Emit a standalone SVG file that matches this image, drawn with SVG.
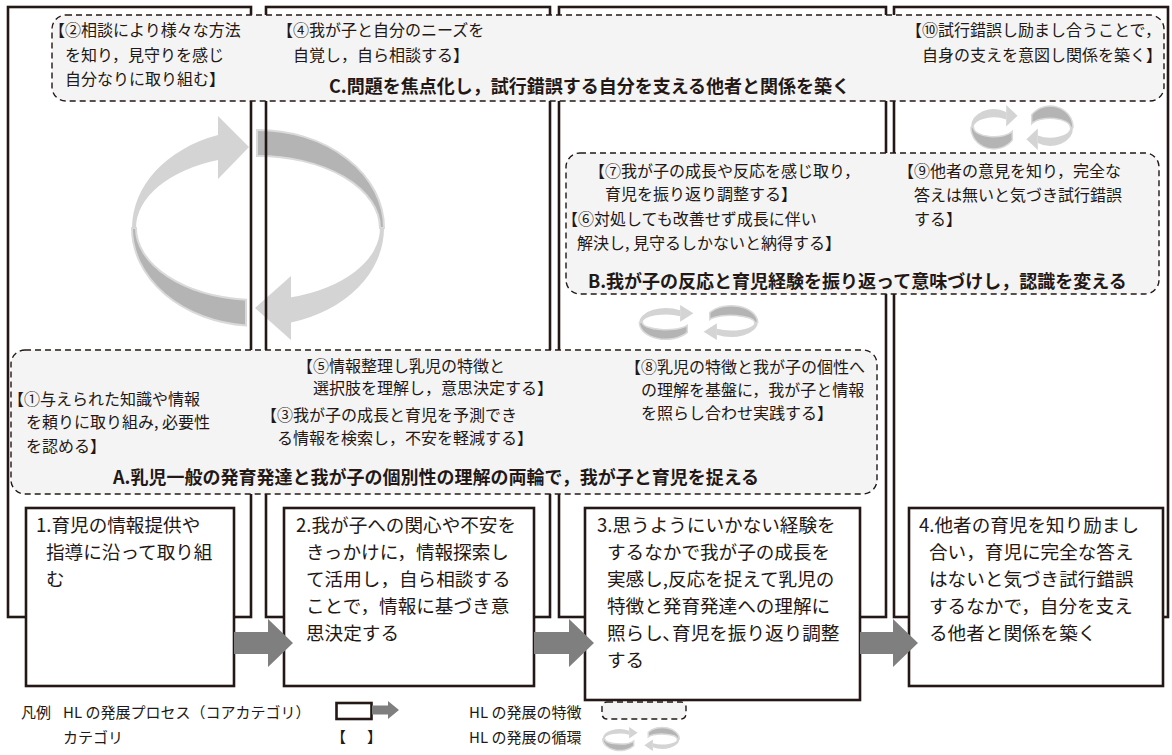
<svg xmlns="http://www.w3.org/2000/svg" width="1172" height="755" viewBox="0 0 1172 755">
<style>
  text { font-family: 'Noto Sans CJK JP', 'Noto Sans', sans-serif; fill: #231815; }
  .cat { font-size: 16px; }
  .ttl { font-size: 18px; font-weight: 700; }
  .box { font-size: 18.6px; }
  .leg { font-size: 15px; }
  .col { fill: none; stroke: #231815; stroke-width: 2.6; }
  .feat { fill: #f4f4f4; stroke: #231815; stroke-width: 1.4; stroke-dasharray: 6 4; }
  .proc { fill: #ffffff; stroke: #231815; stroke-width: 2.6; }
  .parr { fill: #7f7f7f; }
  .cl { fill: #d4d4d4; }
  .cd { fill: #b4b4b4; stroke: #dadada; stroke-width: 2; }
  .cds { fill: #b4b4b4; stroke: #dadada; stroke-width: 1.5; vector-effect: non-scaling-stroke; }
</style>
<defs>
  <g id="cycL">
    <path class="cds" d="M-55,0 A26,21 0 0 0 -8,12.4 L-8,3.7 A23,9 0 0 1 -52,0 Z"/>
    <path class="cl" d="M-55,0 A26,18 0 0 1 -15,-15.2 L-15,-7.9 A23,10 0 0 0 -52,0 Z"/>
    <path class="cl" d="M-15,-22 L-2,-11.5 L-15,-1 Z"/>
  </g>
  <g id="cyc">
    <use href="#cycL" transform="translate(-3,0)"/>
    <use href="#cycL" transform="translate(3,0) rotate(180)"/>
  </g>
</defs>
<rect x="0" y="0" width="1172" height="755" fill="#ffffff"/>

<g id="big-cycle">
  <path class="cd" d="M132,228 A126,98 0 0 0 246,325.6 L246,299.7 A122,72 0 0 1 136,228 Z"/>
  <path class="cl" d="M132,228 A126,98 0 0 1 218,135.1 L218,160 A122,72 0 0 0 136,228 Z"/>
  <path class="cl" d="M218,116 L249,147 L218,179 Z"/>
  <path class="cd" d="M257,130 A126,98 0 0 1 384,228 L380,228 A122,72 0 0 0 257,156 Z"/>
  <path class="cl" d="M384,228 A126,98 0 0 1 291,322.6 L291,297.3 A122,72 0 0 0 380,228 Z"/>
  <path class="cl" d="M291,276 L255,308 L291,340 Z"/>
</g>

<g id="columns">
  <rect class="col" x="8" y="7" width="243" height="610"/>
  <rect class="col" x="266" y="7" width="284" height="610"/>
  <rect class="col" x="559" y="7" width="327" height="610"/>
  <rect class="col" x="894" y="7" width="274" height="610"/>
</g>

<g id="cycle-upper"><use href="#cyc" transform="translate(1022,127.5) scale(0.88,1.02)"/></g>
<g id="cycle-middle"><use href="#cyc" transform="translate(698.5,322.5) scale(1.02,0.8)"/></g>

<g id="feature-C">
  <rect class="feat" x="52" y="15" width="1112" height="86" rx="14"/>
  <text class="cat" x="49" y="36">【②相談により様々な方法</text>
  <text class="cat" x="65" y="61">を知り，見守りを感じ</text>
  <text class="cat" x="65" y="85">自分なりに取り組む】</text>
  <text class="cat" x="277" y="36">【④我が子と自分のニーズを</text>
  <text class="cat" x="293" y="61">自覚し，自ら相談する】</text>
  <text class="cat" x="906" y="36">【⑩試行錯誤し励まし合うことで，</text>
  <text class="cat" x="922" y="61">自身の支えを意図し関係を築く】</text>
  <text class="ttl" x="329" y="93">C.問題を焦点化し，試行錯誤する自分を支える他者と関係を築く</text>
</g>

<g id="feature-B">
  <rect class="feat" x="566" y="153" width="593" height="141" rx="14"/>
  <text class="cat" x="589" y="177">【⑦我が子の成長や反応を感じ取り，</text>
  <text class="cat" x="605" y="200">育児を振り返り調整する】</text>
  <text class="cat" x="562" y="225">【⑥対処しても改善せず成長に伴い</text>
  <text class="cat" x="577" y="249">解決し, 見守るしかないと納得する】</text>
  <text class="cat" x="898" y="177">【⑨他者の意見を知り，完全な</text>
  <text class="cat" x="914" y="201">答えは無いと気づき試行錯誤</text>
  <text class="cat" x="914" y="225">する】</text>
  <text class="ttl" x="588" y="288">B.我が子の反応と育児経験を振り返って意味づけし，認識を変える</text>
</g>

<g id="feature-A">
  <rect class="feat" x="11" y="350" width="866" height="144" rx="14"/>
  <text class="cat" x="297" y="372">【⑤情報整理し乳児の特徴と</text>
  <text class="cat" x="313" y="394">選択肢を理解し，意思決定する】</text>
  <text class="cat" x="261" y="421">【③我が子の成長と育児を予測でき</text>
  <text class="cat" x="277" y="444">る情報を検索し，不安を軽減する】</text>
  <text class="cat" x="8" y="405">【①与えられた知識や情報</text>
  <text class="cat" x="26" y="428">を頼りに取り組み, 必要性</text>
  <text class="cat" x="26" y="452">を認める】</text>
  <text class="cat" x="625" y="373">【⑧乳児の特徴と我が子の個性へ</text>
  <text class="cat" x="641" y="396">の理解を基盤に，我が子と情報</text>
  <text class="cat" x="641" y="419">を照らし合わせ実践する】</text>
  <text class="ttl" x="113" y="484">A.乳児一般の発育発達と我が子の個別性の理解の両輪で，我が子と育児を捉える</text>
</g>

<g id="process-1">
  <rect class="proc" x="26" y="508" width="208" height="178"/>
  <text class="box" x="36" y="532">1.育児の情報提供や</text>
  <text class="box" x="46" y="559">指導に沿って取り組</text>
  <text class="box" x="46" y="586">む</text>
</g>
<g id="process-2">
  <rect class="proc" x="284" y="508" width="250" height="178"/>
  <text class="box" x="296" y="532">2.我が子への関心や不安を</text>
  <text class="box" x="306" y="559">きっかけに，情報探索し</text>
  <text class="box" x="306" y="586">て活用し，自ら相談する</text>
  <text class="box" x="306" y="613">ことで，情報に基づき意</text>
  <text class="box" x="306" y="640">思決定する</text>
</g>
<g id="process-3">
  <rect class="proc" x="585" y="508" width="275" height="192"/>
  <text class="box" x="597" y="532">3.思うようにいかない経験を</text>
  <text class="box" x="607" y="559">するなかで我が子の成長を</text>
  <text class="box" x="607" y="586">実感し,反応を捉えて乳児の</text>
  <text class="box" x="607" y="613">特徴と発育発達への理解に</text>
  <text class="box" x="607" y="640">照らし､育児を振り返り調整</text>
  <text class="box" x="607" y="667">する</text>
</g>
<g id="process-4">
  <rect class="proc" x="909" y="508" width="254" height="178"/>
  <text class="box" x="919" y="532">4.他者の育児を知り励まし</text>
  <text class="box" x="929" y="559">合い，育児に完全な答え</text>
  <text class="box" x="929" y="586">はないと気づき試行錯誤</text>
  <text class="box" x="929" y="613">するなかで，自分を支え</text>
  <text class="box" x="929" y="640">る他者と関係を築く</text>
</g>

<g id="connectors">
  <polygon class="parr" points="234,632 268,632 268,619 293,643 268,667 268,654 234,654"/>
  <polygon class="parr" points="534,632 569,632 569,619 594,643 569,667 569,654 534,654"/>
  <polygon class="parr" points="860,632 893,632 893,619 918,643 893,667 893,654 860,654"/>
</g>

<g id="legend">
  <text class="leg" x="21" y="718">凡例</text>
  <text class="leg" x="63" y="718">HL の発展プロセス（コアカテゴリ）</text>
  <rect class="proc" x="336.5" y="703" width="35" height="16"/>
  <polygon class="parr" points="372,705.5 388,705.5 388,701 399,710 388,719 388,714.5 372,714.5"/>
  <text class="leg" x="63" y="743">カテゴリ</text>
  <text class="leg" x="331" y="743">【</text>
  <text class="leg" x="367" y="743">】</text>
  <text class="leg" x="469" y="718">HL の発展の特徴</text>
  <rect class="feat" x="602" y="702" width="84" height="17" rx="5"/>
  <text class="leg" x="469" y="743">HL の発展の循環</text>
  <use href="#cyc" transform="translate(641,739) scale(0.66,0.55)"/>
</g>
</svg>
